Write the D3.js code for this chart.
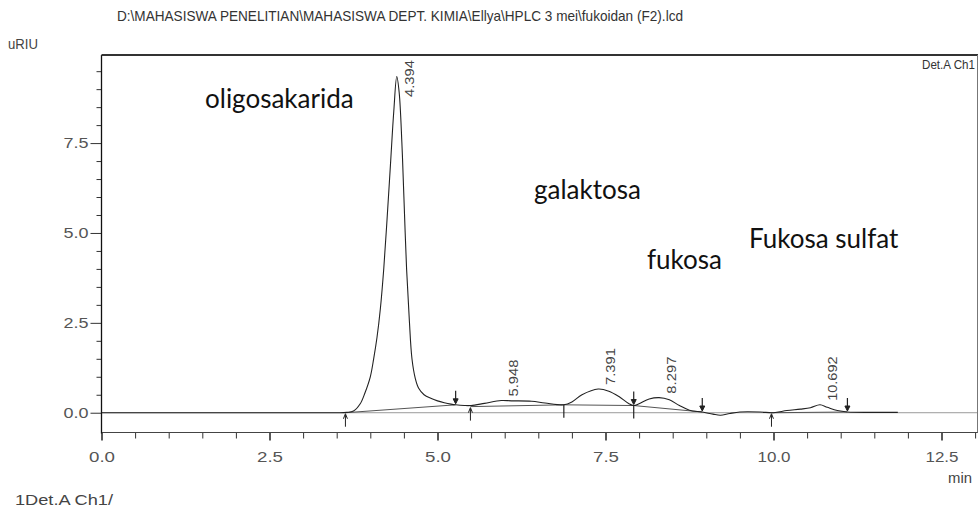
<!DOCTYPE html>
<html><head><meta charset="utf-8">
<script src="https://cdn.jsdelivr.net/npm/d3@7/dist/d3.min.js"></script>
<style>
html,body{margin:0;padding:0;background:#fff;}
svg{display:block;}
</style></head>
<body>
<script>
// ---- data ----
const times  = [0.0, 1.0, 2.0, 3.0, 3.5, 3.65, 3.75, 3.85, 3.92, 4.0, 4.05, 4.1, 4.15, 4.2, 4.25, 4.3, 4.35, 4.394, 4.43, 4.47, 4.5, 4.54, 4.58, 4.62, 4.67, 4.72, 4.8, 4.9, 5.0, 5.1, 5.2, 5.27, 5.4, 5.5, 5.7, 5.948, 6.1, 6.4, 6.6, 6.88, 7.0, 7.15, 7.391, 7.55, 7.7, 7.85, 7.92, 8.0, 8.15, 8.297, 8.45, 8.6, 8.75, 8.94, 9.1, 9.21, 9.35, 9.5, 9.8, 10.0, 10.2, 10.4, 10.55, 10.692, 10.8, 10.95, 11.1, 11.5, 11.85];
const signal = [0.0, 0.0, 0.0, 0.0, 0.0, 0.01, 0.05, 0.25, 0.55, 1.0, 1.5, 2.1, 2.9, 4.0, 5.4, 6.9, 8.4, 9.35, 8.9, 7.5, 6.0, 4.0, 2.6, 1.5, 0.95, 0.68, 0.5, 0.4, 0.33, 0.28, 0.24, 0.22, 0.2, 0.2, 0.26, 0.34, 0.33, 0.32, 0.27, 0.22, 0.3, 0.5, 0.66, 0.6, 0.45, 0.25, 0.2, 0.25, 0.38, 0.42, 0.36, 0.2, 0.07, 0.02, -0.04, -0.07, -0.02, 0.02, 0.02, 0.0, 0.06, 0.1, 0.14, 0.22, 0.15, 0.06, 0.02, 0.01, 0.01];

const peakTimes  = [4.394, 5.948, 7.391, 8.297, 10.692];
const peakLabels = ["4.394", "5.948", "7.391", "8.297", "10.692"];

// integration baselines: [start time, start value, end time, end value]
const baseStartT = [3.63, 5.49, 6.88, 7.92, 9.97];
const baseStartV = [0.0, 0.17, 0.22, 0.2, 0.0];
const baseEndT   = [5.27, 6.88, 7.92, 8.94, 11.1];
const baseEndV   = [0.22, 0.22, 0.2, 0.02, 0.02];

// peak start / end markers
const markerT    = [3.63, 5.27, 5.49, 6.88, 7.92, 7.92, 8.94, 9.97, 11.1];
const markerV    = [0.0, 0.22, 0.17, 0.22, 0.2, 0.2, 0.02, 0.0, 0.02];
const markerType = ["up", "down", "up", "tick", "down", "tick", "down", "up", "down"];

const yTickLabels = ["0.0", "2.5", "5.0", "7.5"];
const xTickLabels = ["0.0", "2.5", "5.0", "7.5", "10.0", "12.5"];

const annotations = ["oligosakarida", "galaktosa", "fukosa", "Fukosa sulfat"];
const annotX = [205, 534, 647, 749];
const annotY = [108, 199, 269, 248];

const titleText = "D:\\MAHASISWA PENELITIAN\\MAHASISWA DEPT. KIMIA\\Ellya\\HPLC 3 mei\\fukoidan (F2).lcd";

// ---- layout ----
const W = 980, H = 512;
const L = 101.5, R = 978, T = 55, B = 432.5;
const FONT = "'Liberation Sans', Arial, sans-serif";

const svg = d3.select("body").append("svg").attr("width", W).attr("height", H)
  .style("font-family", FONT);

const x = d3.scaleLinear().domain([0, (R - L) / 67.2]).range([L, R]);
const y = d3.scaleLinear().domain([-0.55, 9.95]).range([B, T]);

svg.append("defs").append("clipPath").attr("id", "clip")
  .append("rect").attr("x", L).attr("y", T).attr("width", R - L).attr("height", B - T);

// title
svg.append("text").attr("x", 117).attr("y", 21).text(titleText)
  .attr("font-size", 14.5).attr("fill", "#333")
  .attr("textLength", 566).attr("lengthAdjust", "spacingAndGlyphs");
svg.append("text").attr("x", 8).attr("y", 49).text("uRIU")
  .attr("font-size", 14).attr("fill", "#444")
  .attr("textLength", 30).attr("lengthAdjust", "spacingAndGlyphs");

// zero line
svg.append("line").attr("x1", L).attr("x2", R).attr("y1", y(0)).attr("y2", y(0))
  .attr("stroke", "#9a9a9a").attr("stroke-width", 1);

// y axis
const yMinor = d3.range(0, 10, 0.5).filter(v => Math.abs(v % 2.5) > 1e-6);
const yAxis = d3.axisLeft(y).tickValues([0, 2.5, 5, 7.5]).tickSize(11)
  .tickFormat((d, i) => yTickLabels[i]);
const gy = svg.append("g").attr("transform", `translate(${L},0)`).call(yAxis);
gy.select(".domain").remove();
gy.selectAll(".tick line").attr("stroke", "#333");
gy.selectAll(".tick text").attr("font-size", 15).attr("fill", "#555")
  .attr("font-family", FONT).attr("x", -13)
  .attr("textLength", 25).attr("lengthAdjust", "spacingAndGlyphs");
svg.append("g").attr("transform", `translate(${L},0)`)
  .call(d3.axisLeft(y).tickValues(yMinor).tickSize(5).tickFormat(""))
  .call(g => { g.select(".domain").remove(); g.selectAll("line").attr("stroke", "#333"); });

// x axis
const xMinor = d3.range(0, 13.01, 0.5).filter(v => Math.abs(v % 2.5) > 1e-6);
const xAxis = d3.axisBottom(x).tickValues([0, 2.5, 5, 7.5, 10, 12.5]).tickSize(8)
  .tickFormat((d, i) => xTickLabels[i]);
const gx = svg.append("g").attr("transform", `translate(0,${B})`).call(xAxis);
gx.select(".domain").remove();
gx.selectAll(".tick line").attr("stroke", "#222").attr("stroke-width", 1.5);
gx.selectAll(".tick text").attr("font-size", 15).attr("fill", "#555")
  .attr("font-family", FONT).attr("y", 19)
  .attr("textLength", (d, i) => xTickLabels[i].length > 3 ? 33 : 26)
  .attr("lengthAdjust", "spacingAndGlyphs");
svg.append("g").attr("transform", `translate(0,${B})`)
  .call(d3.axisBottom(x).tickValues(xMinor).tickSize(6).tickFormat(""))
  .call(g => { g.select(".domain").remove(); g.selectAll("line").attr("stroke", "#333"); });

// frame
svg.append("line").attr("x1", L).attr("x2", R).attr("y1", B).attr("y2", B).attr("stroke", "#444").attr("stroke-width", 1.2);
svg.append("line").attr("x1", L).attr("x2", L).attr("y1", T).attr("y2", B + 1).attr("stroke", "#111").attr("stroke-width", 1.3);
svg.append("line").attr("x1", L).attr("x2", R).attr("y1", T).attr("y2", T).attr("stroke", "#333").attr("stroke-width", 2);
svg.append("line").attr("x1", R - 0.5).attr("x2", R - 0.5).attr("y1", T).attr("y2", B).attr("stroke", "#777").attr("stroke-width", 1);

svg.append("text").attr("x", R - 3).attr("y", 69).attr("text-anchor", "end")
  .text("Det.A Ch1").attr("font-size", 13).attr("fill", "#333")
  .attr("textLength", 53).attr("lengthAdjust", "spacingAndGlyphs");

const plot = svg.append("g").attr("clip-path", "url(#clip)");

// integration baselines
plot.selectAll("line.base").data(baseStartT).join("line").attr("class", "base")
  .attr("x1", (d, i) => x(baseStartT[i])).attr("y1", (d, i) => y(baseStartV[i]))
  .attr("x2", (d, i) => x(baseEndT[i])).attr("y2", (d, i) => y(baseEndV[i]))
  .attr("stroke", "#555").attr("stroke-width", 1);

// signal
const line = d3.line().x((d, i) => x(times[i])).y((d, i) => y(signal[i])).curve(d3.curveCatmullRom.alpha(0.5));
plot.append("path").attr("d", line(times)).attr("fill", "none").attr("stroke", "#222").attr("stroke-width", 1.1);

// markers
markerT.forEach((t, i) => {
  const mx = x(t), my = y(markerV[i]);
  const g = plot.append("g").attr("stroke", "#222").attr("fill", "#222");
  if (markerType[i] === "up") {
    g.append("line").attr("x1", mx).attr("x2", mx).attr("y1", my + 2).attr("y2", my + 14).attr("stroke-width", 1);
    g.append("path").attr("d", `M${mx - 2},${my + 6}L${mx},${my + 1}L${mx + 2},${my + 6}`).attr("fill", "none");
  } else if (markerType[i] === "down") {
    g.append("line").attr("x1", mx).attr("x2", mx).attr("y1", my - 14).attr("y2", my - 2).attr("stroke-width", 1.2);
    g.append("path").attr("d", `M${mx - 2.5},${my - 6}L${mx},${my - 1}L${mx + 2.5},${my - 6}Z`);
  } else {
    g.append("line").attr("x1", mx).attr("x2", mx).attr("y1", my).attr("y2", my + 13).attr("stroke-width", 1.2);
  }
});

// peak labels
peakTimes.forEach((t, i) => {
  const idx = times.indexOf(t);
  const v = idx >= 0 ? signal[idx] : 0;
  const px = x(t) + 17;
  let py = y(v) - 4;
  py = Math.max(py, 97);
  plot.append("text").attr("transform", `translate(${px},${py}) rotate(-90)`)
    .text(peakLabels[i]).attr("font-size", 13).attr("fill", "#444")
    .attr("textLength", peakLabels[i].length * 7.4).attr("lengthAdjust", "spacingAndGlyphs");
});

// annotations
annotations.forEach((a, i) => {
  svg.append("text").attr("x", annotX[i]).attr("y", annotY[i]).text(a)
    .attr("font-family", "Lato, 'Open Sans', sans-serif").attr("font-size", 26).attr("fill", "#111");
});

svg.append("text").attr("x", 960).attr("y", 483).attr("text-anchor", "middle")
  .text("min").attr("font-size", 14).attr("fill", "#444")
  .attr("textLength", 24).attr("lengthAdjust", "spacingAndGlyphs");
svg.append("text").attr("x", 15).attr("y", 505).text("1Det.A Ch1/")
  .attr("font-size", 15).attr("fill", "#444")
  .attr("textLength", 98).attr("lengthAdjust", "spacingAndGlyphs");
</script>
</body></html>
